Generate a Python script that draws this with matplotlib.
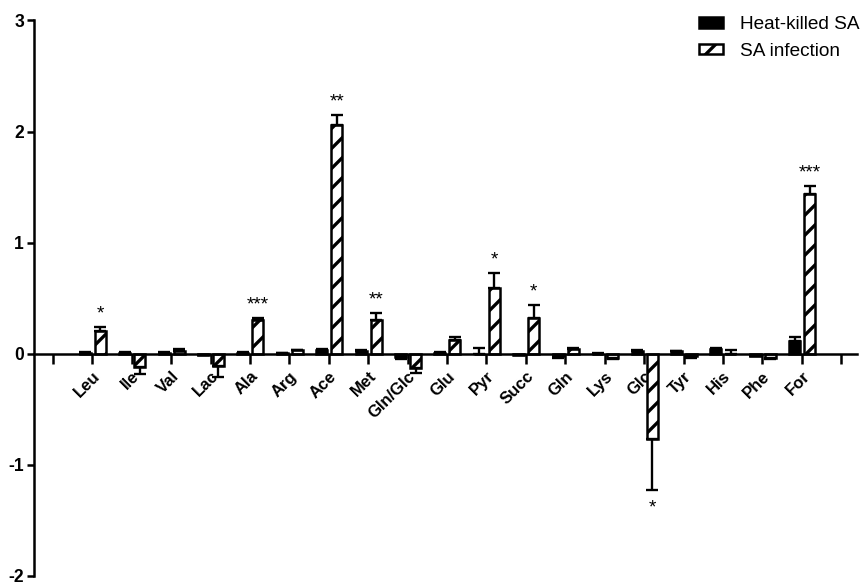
import numpy as np
import matplotlib
matplotlib.use("Agg")
import matplotlib.pyplot as plt

plt.rcParams['font.family'] = ['Liberation Sans', 'DejaVu Sans']
plt.rcParams['hatch.linewidth'] = 2.0

names = ['Leu', 'Ile', 'Val', 'Lac', 'Ala', 'Arg', 'Ace', 'Met', 'Gln/Glc', 'Glu',
         'Pyr', 'Succ', 'Gln', 'Lys', 'Glc', 'Tyr', 'His', 'Phe', 'For']

heat = [0.01, 0.01, 0.01, -0.01, 0.01, 0.005, 0.03, 0.02, -0.03, 0.01,
        0.0, -0.01, -0.02, 0.0, 0.02, 0.02, 0.04, -0.02, 0.11]
heat_err = [0.005, 0.005, 0.005, 0.005, 0.005, 0.005, 0.01, 0.01, 0.02, 0.005,
            0.05, 0.005, 0.02, 0.005, 0.01, 0.005, 0.01, 0.005, 0.04]

sa = [0.20, -0.12, 0.02, -0.11, 0.30, 0.03, 2.06, 0.30, -0.13, 0.12,
      0.59, 0.32, 0.04, -0.04, -0.77, -0.02, 0.0, -0.04, 1.44]
sa_err = [0.04, 0.06, 0.02, 0.10, 0.02, 0.005, 0.09, 0.07, 0.04, 0.03,
          0.14, 0.12, 0.01, 0.01, 0.46, 0.02, 0.03, 0.01, 0.07]

stars = {'Leu': '*', 'Ala': '***', 'Ace': '**', 'Met': '**', 'Pyr': '*',
         'Succ': '*', 'Glc': '*', 'For': '***'}

x = np.arange(1, len(names) + 1)
w = 0.28

fig = plt.figure(figsize=(860 / 120, 584 / 120), dpi=120)
ax = fig.add_axes([0.0395, 0.0140, 0.957, 0.951])

# one sided error bars, in the direction of the bar
def one_sided(vals, errs):
    lo = [e if v < 0 else 0 for v, e in zip(vals, errs)]
    hi = [e if v >= 0 else 0 for v, e in zip(vals, errs)]
    return [lo, hi]

ax.bar(x - 0.18, heat, w, color='black', edgecolor='black', linewidth=1.5,
       label='Heat-killed SA', zorder=2)
ax.errorbar(x - 0.18, heat, yerr=one_sided(heat, heat_err), fmt='none',
            ecolor='black', elinewidth=1.4, capsize=3.5, capthick=1.4, zorder=3)
ax.bar(x + 0.2, sa, w, color='white', edgecolor='black', linewidth=1.5,
       hatch='//', label='SA infection', zorder=2)
ax.errorbar(x + 0.2, sa, yerr=one_sided(sa, sa_err), fmt='none',
            ecolor='black', elinewidth=1.4, capsize=3.5, capthick=1.4, zorder=3)

for i, n in enumerate(names):
    if n in stars:
        v, e = sa[i], sa_err[i]
        if v >= 0:
            ax.text(x[i] + 0.2, v + e + 0.04, stars[n], ha='center', va='bottom', fontsize=11.5)
        else:
            ax.text(x[i] + 0.2, v - e - 0.08, stars[n], ha='center', va='top', fontsize=11.5)

ax.set_xlim(-0.48, 20.4)
ax.set_ylim(-2, 3)
ax.spines['top'].set_visible(False)
ax.spines['right'].set_visible(False)
ax.spines['bottom'].set_position(('data', 0))
ax.spines['left'].set_linewidth(1.5)
ax.spines['bottom'].set_linewidth(1.5)

ax.set_yticks([-2, -1, 0, 1, 2, 3])
ax.set_yticklabels(['-2', '-1', '0', '1', '2', '3'], fontsize=10.5, fontweight='bold')
ax.tick_params(axis='y', length=4, width=1.5, pad=2)

ax.set_xticks(np.arange(0, 21))
ax.set_xticklabels([''] + names + [''], rotation=45, ha='right', rotation_mode='anchor',
                   fontsize=10, fontweight='bold')
ax.tick_params(axis='x', length=6, width=1.5, pad=3)

leg = fig.legend(loc='upper right', bbox_to_anchor=(0.999, 0.972), frameon=False,
                 fontsize=11.4, handlelength=1.3, handleheight=0.45, handletextpad=0.85,
                 labelspacing=0.5, borderaxespad=0, borderpad=0)

fig.savefig('out.png', dpi=120)
